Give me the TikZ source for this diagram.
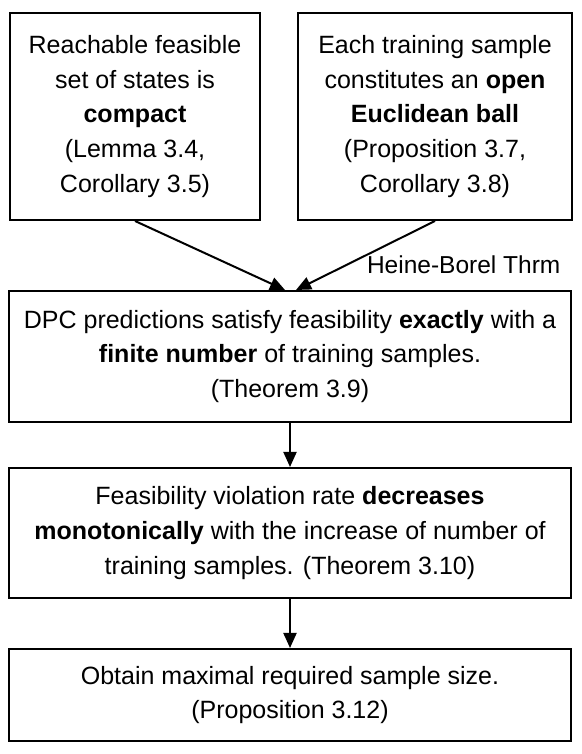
\documentclass[tikz,border=0pt]{standalone}
\usepackage{fontspec}
\setmainfont{Liberation Sans}
\usetikzlibrary{positioning,arrows.meta}
\tikzset{
  thmbox/.style={draw,line width=1pt,rectangle,inner sep=0,align=center,
    font=\fontsize{12.5pt}{17.4pt}\selectfont},
  implies/.style={line width=1pt,-{Triangle[length=7.5pt,width=6.5pt]}}
}
\begin{document}
\begin{tikzpicture}[x=0.5pt,y=0.5pt]
\useasboundingbox (0,0) rectangle (582,754);
% assumptions
\node[thmbox,minimum width=125pt,minimum height=103.5pt] (compact) at (135,637.5)
  {Reachable feasible\\set of states is\\\textbf{compact}\\(Lemma 3.4,\\Corollary 3.5)};
\node[thmbox,minimum width=137pt,minimum height=103.5pt] (ball) at (435,637.5)
  {Each training sample\\constitutes an \textbf{open}\\\textbf{Euclidean ball}\\(Proposition 3.7,\\Corollary 3.8)};
% results
\node[thmbox,minimum width=281pt,minimum height=65.5pt] (exact) at (290,397.5)
  {DPC predictions satisfy feasibility \textbf{exactly} with a\\\textbf{finite number} of training samples.\\(Theorem 3.9)};
\node[thmbox,minimum width=281pt,minimum height=65pt] (mono) at (290,221)
  {Feasibility violation rate \textbf{decreases}\\\textbf{monotonically} with the increase of number of\\training samples. (Theorem 3.10)};
\node[thmbox,minimum width=281pt,minimum height=46pt] (size) at (290,59)
  {Obtain maximal required sample size.\\(Proposition 3.12)};
% arrows
\draw[implies] (compact.south) -- ([xshift=-2.5pt]exact.north);
\draw[implies] (ball.south) -- node[pos=0.64,anchor=west,xshift=10pt,inner sep=0,
  font=\fontsize{12.25pt}{17.25pt}\selectfont] (hb) {Heine-Borel Thrm} ([xshift=3pt]exact.north);
\draw[implies] (exact.south) -- (mono.north);
\draw[implies] (mono.south) -- (size.north);
\end{tikzpicture}
\end{document}
